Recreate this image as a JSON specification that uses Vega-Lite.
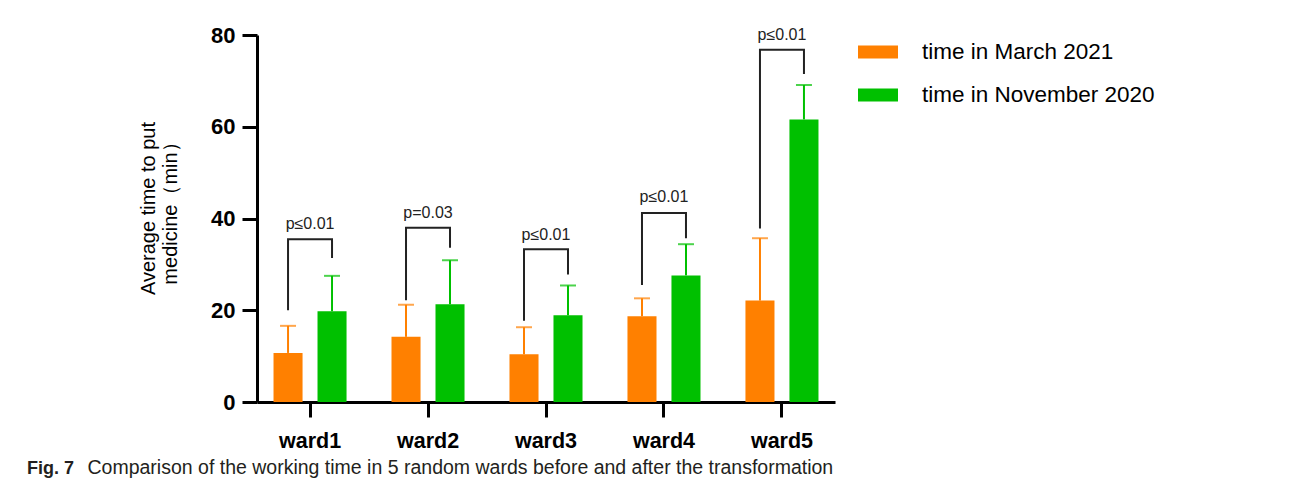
{
  "$schema": "https://vega.github.io/schema/vega-lite/v6.json",
  "autosize": "none",
  "width": 578,
  "height": 367,
  "padding": {"left": 257, "top": 35, "right": 460, "bottom": 82},
  "background": "white",
  "config": {
    "font": "Liberation Sans",
    "view": {"stroke": null},
    "axis": {"domainColor": "black", "tickColor": "black", "labelColor": "black", "titleColor": "black", "grid": false}
  },
  "title": {
    "text": "Fig. 7",
    "orient": "bottom",
    "anchor": "start",
    "frame": "group",
    "fontSize": 18,
    "fontWeight": "bold",
    "color": "#231f20",
    "dx": -230,
    "offset": 0,
    "dy": -17
  },
  "datasets": {
    "bars": [
      {"ward": "ward1", "group": "time in March 2021", "mean": 10.7, "upper": 16.6},
      {"ward": "ward1", "group": "time in November 2020", "mean": 19.8, "upper": 27.5},
      {"ward": "ward2", "group": "time in March 2021", "mean": 14.2, "upper": 21.2},
      {"ward": "ward2", "group": "time in November 2020", "mean": 21.3, "upper": 30.9},
      {"ward": "ward3", "group": "time in March 2021", "mean": 10.4, "upper": 16.3},
      {"ward": "ward3", "group": "time in November 2020", "mean": 18.9, "upper": 25.4},
      {"ward": "ward4", "group": "time in March 2021", "mean": 18.7, "upper": 22.6},
      {"ward": "ward4", "group": "time in November 2020", "mean": 27.6, "upper": 34.4},
      {"ward": "ward5", "group": "time in March 2021", "mean": 22.1, "upper": 35.7},
      {"ward": "ward5", "group": "time in November 2020", "mean": 61.6, "upper": 69.1}
    ],
    "brackets": [
      {"ward": "ward1", "group": "time in March 2021", "y": 20.0, "ord": 1},
      {"ward": "ward1", "group": "time in March 2021", "y": 35.5, "ord": 2},
      {"ward": "ward1", "group": "time in November 2020", "y": 35.5, "ord": 3},
      {"ward": "ward1", "group": "time in November 2020", "y": 31.4, "ord": 4},
      {"ward": "ward2", "group": "time in March 2021", "y": 22.2, "ord": 1},
      {"ward": "ward2", "group": "time in March 2021", "y": 38.0, "ord": 2},
      {"ward": "ward2", "group": "time in November 2020", "y": 38.0, "ord": 3},
      {"ward": "ward2", "group": "time in November 2020", "y": 33.6, "ord": 4},
      {"ward": "ward3", "group": "time in March 2021", "y": 17.7, "ord": 1},
      {"ward": "ward3", "group": "time in March 2021", "y": 33.3, "ord": 2},
      {"ward": "ward3", "group": "time in November 2020", "y": 33.3, "ord": 3},
      {"ward": "ward3", "group": "time in November 2020", "y": 27.8, "ord": 4},
      {"ward": "ward4", "group": "time in March 2021", "y": 25.5, "ord": 1},
      {"ward": "ward4", "group": "time in March 2021", "y": 41.2, "ord": 2},
      {"ward": "ward4", "group": "time in November 2020", "y": 41.2, "ord": 3},
      {"ward": "ward4", "group": "time in November 2020", "y": 35.7, "ord": 4},
      {"ward": "ward5", "group": "time in March 2021", "y": 37.8, "ord": 1},
      {"ward": "ward5", "group": "time in March 2021", "y": 76.8, "ord": 2},
      {"ward": "ward5", "group": "time in November 2020", "y": 76.8, "ord": 3},
      {"ward": "ward5", "group": "time in November 2020", "y": 71.5, "ord": 4}
    ],
    "plabels": [
      {"ward": "ward1", "label": "p≤0.01", "y": 38.8},
      {"ward": "ward2", "label": "p=0.03", "y": 41.2},
      {"ward": "ward3", "label": "p≤0.01", "y": 36.4},
      {"ward": "ward4", "label": "p≤0.01", "y": 44.7},
      {"ward": "ward5", "label": "p≤0.01", "y": 80.0}
    ]
  },
  "layer": [
    {
      "data": {"name": "bars"},
      "mark": {"type": "bar"},
      "encoding": {
        "x": {
          "field": "ward", "type": "nominal",
          "scale": {"paddingInner": 0.381, "paddingOuter": 0.14},
          "axis": {
            "labelAngle": 0, "labelFontSize": 21.5, "labelFontWeight": "bold", "labelPadding": 13,
            "tickSize": 15, "tickWidth": 3, "domainWidth": 3,
            "title": "Comparison of the working time in 5 random wards before and after the transformation",
            "titleFontSize": 19.5, "titleFontWeight": "normal", "titleColor": "#231f20",
            "titleAnchor": "start", "titleAlign": "left", "titleBaseline": "alphabetic",
            "titleX": -170, "titleY": 71
          }
        },
        "xOffset": {"field": "group", "type": "nominal", "scale": {"paddingInner": 0.34, "paddingOuter": 0}},
        "y": {
          "field": "mean", "type": "quantitative",
          "scale": {"domain": [0, 80]},
          "axis": {
            "values": [0, 20, 40, 60, 80],
            "labelFontSize": 22, "labelFontWeight": "bold", "labelPadding": 7,
            "tickSize": 15, "tickWidth": 3, "domainWidth": 3,
            "title": ["Average time to put", "medicine（min）"],
            "titleFontSize": 20, "titleFontWeight": "normal", "titleLineHeight": 22,
            "titlePadding": 30, "titleY": 173
          }
        },
        "color": {
          "field": "group", "type": "nominal",
          "scale": {"domain": ["time in March 2021", "time in November 2020"], "range": ["#ff8000", "#00c000"]},
          "legend": {
            "title": null, "orient": "none", "legendX": 601, "legendY": -3,
            "symbolType": "M-1,-0.325H1V0.325H-1Z", "symbolSize": 1600, "symbolStrokeWidth": 0, "symbolOpacity": 1,
            "labelFontSize": 22.5, "labelColor": "black", "labelOffset": 24, "labelLimit": 0, "rowPadding": 11, "padding": 0,
            "encode": {"symbols": {"update": {"opacity": {"value": 1}, "fillOpacity": {"value": 1}}}}
          }
        }
      }
    },
    {
      "data": {"name": "bars"},
      "mark": {"type": "rule", "strokeWidth": 2},
      "encoding": {
        "x": {"field": "ward", "type": "nominal"},
        "xOffset": {"field": "group", "type": "nominal"},
        "y": {"field": "mean", "type": "quantitative"},
        "y2": {"field": "upper"},
        "color": {"field": "group", "type": "nominal"}
      }
    },
    {
      "data": {"name": "bars"},
      "mark": {"type": "tick", "orient": "horizontal", "size": 16, "thickness": 2},
      "encoding": {
        "x": {"field": "ward", "type": "nominal"},
        "xOffset": {"field": "group", "type": "nominal"},
        "y": {"field": "upper", "type": "quantitative"},
        "color": {"field": "group", "type": "nominal"}
      }
    },
    {
      "data": {"name": "brackets"},
      "mark": {"type": "line", "strokeWidth": 2, "color": "#222222"},
      "encoding": {
        "x": {"field": "ward", "type": "nominal"},
        "xOffset": {"field": "group", "type": "nominal"},
        "y": {"field": "y", "type": "quantitative"},
        "detail": {"field": "ward"},
        "order": {"field": "ord", "type": "quantitative"}
      }
    },
    {
      "data": {"name": "plabels"},
      "mark": {"type": "text", "fontSize": 16, "color": "#222222", "baseline": "middle"},
      "encoding": {
        "x": {"field": "ward", "type": "nominal"},
        "y": {"field": "y", "type": "quantitative"},
        "text": {"field": "label"}
      }
    }
  ]
}
